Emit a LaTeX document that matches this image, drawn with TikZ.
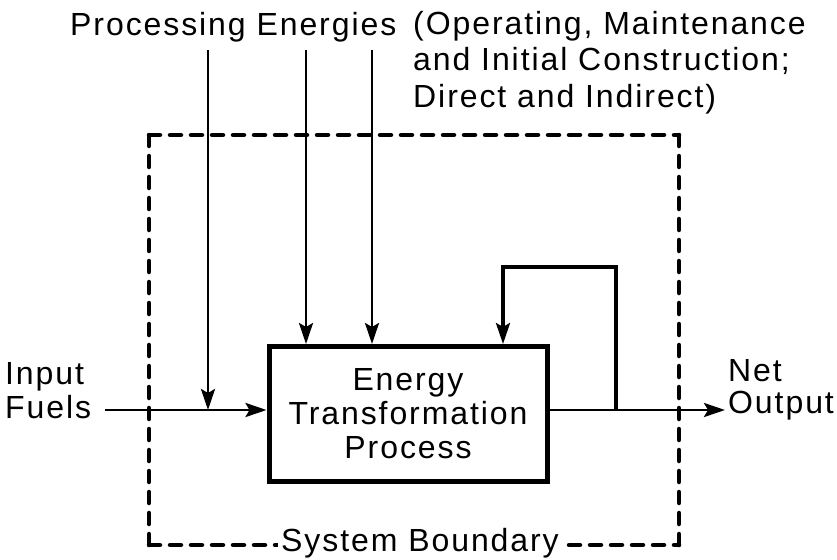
\documentclass[tikz,border=0pt]{standalone}
\usepackage{fontspec}
\setmainfont{Liberation Sans}[LetterSpace=6]
\usetikzlibrary{arrows.meta, positioning}

\begin{document}
\begin{tikzpicture}[
  x=1pt, y=-1pt,
  every node/.style={font=\fontsize{32}{35}\selectfont, inner sep=0pt},
  procbox/.style={rectangle, draw, line width=5pt, align=center,
                  font=\fontsize{32}{34}\selectfont,
                  minimum width=278pt, minimum height=135pt},
  boundary/.style={line width=4.5pt, dash pattern=on 11pt off 10pt,
                   line cap=round},
  lbl/.style={align=left},
  arr/.style={-{Stealth[length=21pt, width=14pt, inset=4pt]}, line width=2.8pt}
]
  \useasboundingbox (0,0) rectangle (837,559);

  % system boundary
  \coordinate (tl) at (149,135);
  \coordinate (tr) at (679,135);
  \coordinate (bl) at (149,545);
  \coordinate (br) at (679,545);
  \draw[boundary] (tl) -- (tr);
  \draw[boundary] (tr) -- (br);
  \draw[boundary] (bl) -- (tl);
  \draw[boundary] (bl) -- (br);
  \node[fill=white, inner xsep=3pt, inner ysep=2pt, anchor=base] (sysb) at (420,551) {System Boundary};

  % labels
  \node[lbl, anchor=north west] (procen) at (70,12) {Processing Energies};
  \node[lbl, anchor=north west, font=\fontsize{32}{36.5}\selectfont] (kinds) at (413,11)
    {(Operating, Maintenance\\and Initial Construction;\\Direct and Indirect)};
  \node[lbl, anchor=north west, font=\fontsize{32}{34}\selectfont] (fuels) at (5,362) {Input\\Fuels};
  \node[lbl, anchor=north west, font=\fontsize{32}{32}\selectfont] (netout) at (728,359) {Net\\Output};

  % process
  \node[procbox] (etp) at (408,414) {Energy\\Transformation\\Process};

  \coordinate (fuelin) at (105,410);
  \coordinate (pe1) at (208,50);
  \coordinate (pe2) at (306,50);
  \coordinate (pe3) at (372,50);
  \coordinate (tap) at (616,410);
  \coordinate (loopl) at (503,267);
  \coordinate (outend) at (725,410);

  \draw[arr] (fuelin) -- (etp.west |- fuelin);
  \draw[arr] (pe1) -- (pe1 |- fuelin);
  \draw[arr] (pe2) -- (pe2 |- etp.north);
  \draw[arr] (pe3) -- (pe3 |- etp.north);
  \draw[arr] (etp.east |- tap) -- (outend);
  \draw[arr, line width=3.2pt] (tap) |- (loopl) -- (loopl |- etp.north);
\end{tikzpicture}
\end{document}
